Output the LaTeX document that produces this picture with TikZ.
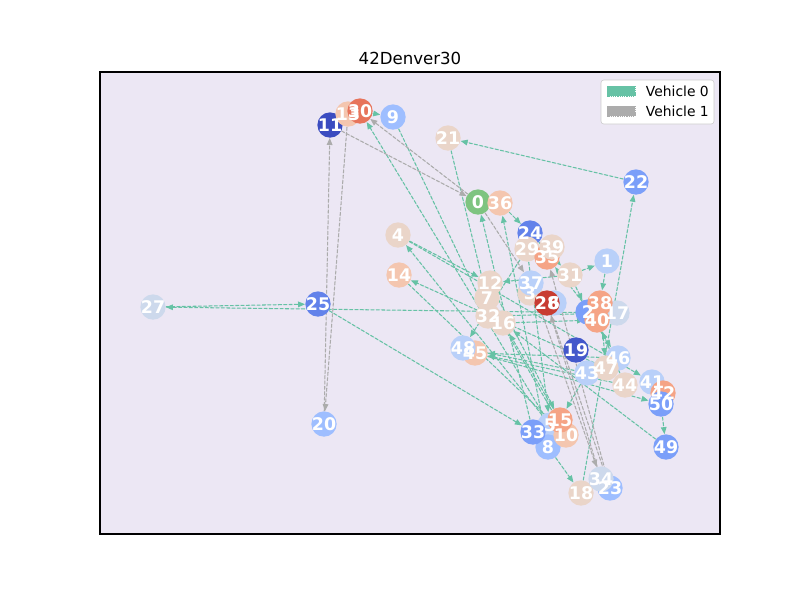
\documentclass[tikz,border=0pt]{standalone}
\usepackage{fontspec}
\setmainfont{DejaVu Sans}
\usepackage{tikz}
\usetikzlibrary{arrows.meta,backgrounds}
\definecolor{axbg}{RGB}{236,231,244}
\definecolor{vzero}{RGB}{102,194,165}
\definecolor{vone}{RGB}{172,172,172}
\definecolor{cdepot}{RGB}{126,196,128}
\definecolor{ca}{RGB}{59,76,192}
\definecolor{cab}{RGB}{67,88,203}
\definecolor{cb}{RGB}{98,130,234}
\definecolor{cc}{RGB}{123,159,249}
\definecolor{cd}{RGB}{158,190,255}
\definecolor{ce}{RGB}{185,208,249}
\definecolor{cf}{RGB}{205,217,236}
\definecolor{cg}{RGB}{234,213,201}
\definecolor{ch}{RGB}{244,198,175}
\definecolor{ci}{RGB}{245,164,134}
\definecolor{cj}{RGB}{231,116,91}
\definecolor{ck}{RGB}{200,60,50}
\tikzset{
  city/.style={circle,minimum size=18pt,inner sep=0pt,draw=none},
  citytext/.style={text=white,font=\bfseries\fontsize{12.4}{13}\selectfont,inner sep=0pt},
  vzedge/.style={draw=vzero,line width=0.75pt,dash pattern=on 2.6pt off 1.2pt,
    -{Triangle[length=5pt,width=4pt]},fill=vzero},
  voedge/.style={draw=vone,line width=0.75pt,dash pattern=on 2.6pt off 1.2pt,
    -{Triangle[length=5pt,width=4pt]},fill=vone},
}
\begin{document}
\begin{tikzpicture}[x=0.025cm,y=-0.025cm]
  \useasboundingbox (0,0) rectangle (800,600);
  \node[font=\fontsize{11.8}{13}\selectfont] (title) at (410,58) {42Denver30};
  % Cities
  \foreach \n/\x/\y/\c in {
      0/478/202/cdepot, 1/607/261/ce, 2/588/312/cc, 3/530/293/cg, 4/398/235/cg,
      5/550/425/ce, 6/554/303/ce, 7/487/298/cg, 8/548/447/cd, 9/393/117/cd,
      10/566/435/ch, 11/330/125/ca, 12/490/283/cg, 13/348/114/ch, 14/399/275/ch,
      15/560/420/ci, 16/503/323/cg, 17/617/313/cf, 18/581/493/cg, 19/576/350/cab,
      20/324/424/cd, 21/448/138/cg, 22/636/182/cc, 23/610/488/cd, 24/530/233/cb,
      25/318/304/cb, 27/153/307/cf, 28/547/303/ck, 29/527/249/cg,
      30/360/111/cj, 31/570/275/cg, 32/488/316/cg, 33/533/432/cc, 34/601/479/cf,
      35/547/257/ci, 36/500/203/ch, 37/531/283/ce, 38/600/303/ci, 39/552/247/cg,
      40/597/320/ci, 41/652/382/ce, 42/663/393/ci, 43/587/373/ce, 44/625/385/cg,
      45/475/353/ch, 46/618/358/ce, 47/606/368/cg, 48/463/348/ce, 49/666/447/cc,
      50/661/404/cc}
    \node[city,fill=\c] (n\n) at (\x,\y) {};
  \begin{scope}[on background layer]
    \fill[white] (0,0) rectangle (800,600);
    \draw[fill=axbg,line width=0.8pt] (100,72) rectangle (720,534);
    % Vehicle 0
    \foreach \a/\b in {22/21, 18/22, 21/7, 9/32, 30/9, 5/30, 4/12, 5/4, 47/14,
        14/10, 17/27, 27/25, 25/33, 31/1, 1/38, 31/2, 40/35, 33/0, 8/36, 36/24,
        24/31, 31/12, 45/50, 46/45, 44/45, 43/48, 50/49, 49/16, 15/16, 10/7,
        43/15, 8/18, 4/41, 32/17, 38/47, 2/46, 16/40, 29/48, 44/40, 29/5, 12/15}
      \draw[vzedge] (n\a) -- (n\b);
    % Vehicle 1
    \foreach \a/\b in {11/0, 0/30, 13/20, 20/11, 0/37, 37/34, 34/28, 28/23, 23/35}
      \draw[voedge] (n\a) -- (n\b);
  \end{scope}
  % Labels
  \foreach \n in {0,...,25,27,28,...,50}
    \node[citytext] (l\n) at (n\n) {\n};
  % Legend
  \draw[draw=black!20,fill=white,rounded corners=2pt] (601,80) rectangle (714,124);
  \draw[vzero,fill=vzero,dash pattern=on 1pt off 0.6pt] (607,86) rectangle (635,96);
  \draw[vone,fill=vone,dash pattern=on 1pt off 0.6pt] (607,106) rectangle (635,116);
  \node[anchor=west,font=\fontsize{9.85}{11}\selectfont] (lg0) at (641,91) {Vehicle 0};
  \node[anchor=west,font=\fontsize{9.85}{11}\selectfont] (lg1) at (641,111) {Vehicle 1};
\end{tikzpicture}
\end{document}
